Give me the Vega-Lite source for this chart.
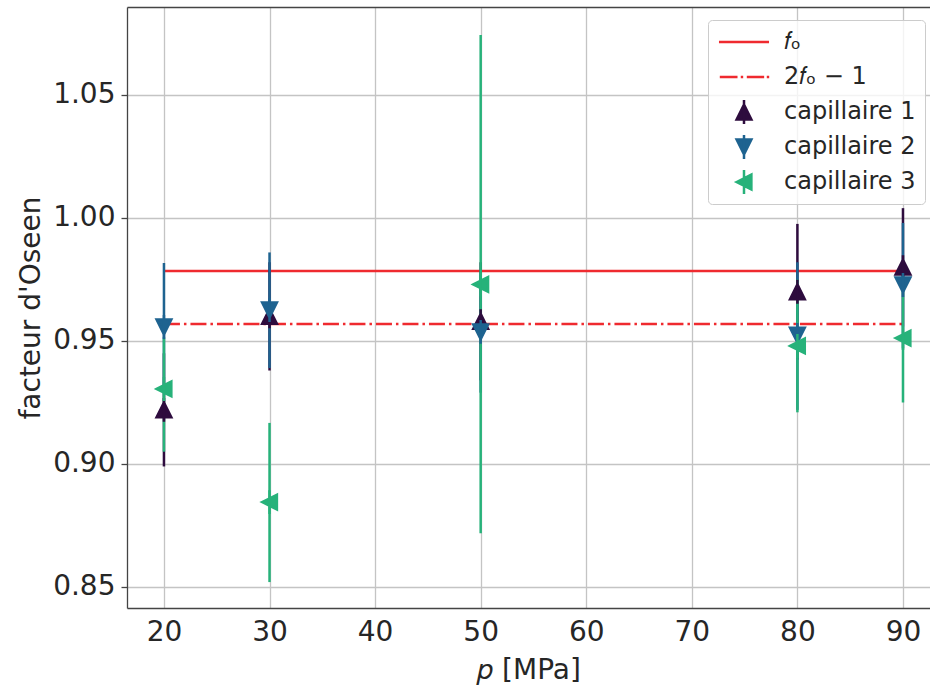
{
  "$schema": "https://vega.github.io/schema/vega-lite/v6.json",
  "width": 803,
  "height": 601,
  "autosize": "none",
  "padding": {"left": 127, "top": 7, "right": 0, "bottom": 78},
  "background": "white",
  "config": {
    "view": {"stroke": null},
    "font": "DejaVu Sans",
    "axis": {
      "labelFont": "DejaVu Sans",
      "titleFont": "DejaVu Sans",
      "labelColor": "#262626",
      "titleColor": "#262626",
      "titleFontWeight": "normal",
      "domainColor": "#444444",
      "domainWidth": 1.3,
      "tickColor": "#444444",
      "gridColor": "#c4c4c4",
      "gridWidth": 1.3
    },
    "legend": {
      "symbolStrokeWidth": 2.5,
      "clipHeight": 26
    }
  },
  "datasets": {
    "refs": [
      {"name": "fO", "x1": 20, "x2": 90, "v": 0.9785},
      {"name": "2fO-1", "x1": 20, "x2": 90, "v": 0.9569}
    ],
    "caps": [
      {"series": "capillaire 1", "p": 20, "f": 0.922, "lo": 0.899, "hi": 0.945},
      {"series": "capillaire 1", "p": 30, "f": 0.960, "lo": 0.938, "hi": 0.982},
      {"series": "capillaire 1", "p": 50, "f": 0.958, "lo": 0.934, "hi": 0.982},
      {"series": "capillaire 1", "p": 80, "f": 0.970, "lo": 0.9424, "hi": 0.9976},
      {"series": "capillaire 1", "p": 90, "f": 0.980, "lo": 0.956, "hi": 1.004},
      {"series": "capillaire 2", "p": 20, "f": 0.9557, "lo": 0.930, "hi": 0.9817},
      {"series": "capillaire 2", "p": 30, "f": 0.9626, "lo": 0.939, "hi": 0.986},
      {"series": "capillaire 2", "p": 50, "f": 0.9537, "lo": 0.929, "hi": 0.978},
      {"series": "capillaire 2", "p": 80, "f": 0.9524, "lo": 0.922, "hi": 0.982},
      {"series": "capillaire 2", "p": 90, "f": 0.9728, "lo": 0.947, "hi": 0.998},
      {"series": "capillaire 3", "p": 20, "f": 0.9305, "lo": 0.905, "hi": 0.9516},
      {"series": "capillaire 3", "p": 30, "f": 0.8845, "lo": 0.852, "hi": 0.9167},
      {"series": "capillaire 3", "p": 50, "f": 0.973, "lo": 0.8718, "hi": 1.0744},
      {"series": "capillaire 3", "p": 80, "f": 0.948, "lo": 0.921, "hi": 0.975},
      {"series": "capillaire 3", "p": 90, "f": 0.9512, "lo": 0.925, "hi": 0.977}
    ]
  },
  "layer": [
    {
      "data": {"name": "refs"},
      "mark": {"type": "rule", "strokeWidth": 2.5, "color": "#ef2a2f"},
      "encoding": {
        "x": {
          "field": "x1", "type": "quantitative",
          "scale": {"domain": [16.5, 92.56], "nice": false, "zero": false},
          "axis": {
            "orient": "bottom",
            "values": [20, 30, 40, 50, 60, 70, 80, 90],
            "title": "𝑝 [MPa]",
            "titleFontSize": 28,
            "labelFontSize": 28,
            "ticks": false,
            "labelPadding": 10,
            "titlePadding": 10,
            "grid": true
          }
        },
        "x2": {"field": "x2"},
        "y": {
          "field": "v", "type": "quantitative",
          "scale": {"domain": [0.84146, 1.08577], "nice": false, "zero": false},
          "axis": {
            "values": [0.85, 0.9, 0.95, 1.0, 1.05],
            "format": ".2f",
            "title": "facteur d'Oseen",
            "titleFontSize": 28,
            "labelFontSize": 28,
            "ticks": true,
            "tickSize": 6,
            "tickWidth": 1.3,
            "labelPadding": 6,
            "titlePadding": 7,
            "grid": true
          }
        },
        "strokeDash": {
          "field": "name", "type": "nominal",
          "scale": {"domain": ["fO", "2fO-1"], "range": [[1, 0], [16, 4, 2.5, 4]]},
          "legend": null
        }
      }
    },
    {
      "data": {"name": "caps"},
      "mark": {"type": "rule", "strokeWidth": 2.5},
      "encoding": {
        "x": {"field": "p", "type": "quantitative", "axis": null},
        "y": {"field": "lo", "type": "quantitative"},
        "y2": {"field": "hi"},
        "color": {
          "field": "series", "type": "nominal",
          "scale": {"domain": ["capillaire 1", "capillaire 2", "capillaire 3"], "range": ["#2e0c3e", "#1e6390", "#27b27a"]},
          "legend": null
        }
      }
    },
    {
      "data": {"name": "caps"},
      "mark": {"type": "point", "filled": true, "opacity": 1, "size": 324, "strokeWidth": 2.5},
      "encoding": {
        "x": {
          "field": "p", "type": "quantitative",
          "axis": {"orient": "top", "labels": false, "ticks": false, "grid": false, "title": null, "domain": true}
        },
        "y": {"field": "f", "type": "quantitative"},
        "fill": {
          "field": "series", "type": "nominal",
          "scale": {
            "domain": ["fO", "2fO-1", "capillaire 1", "capillaire 2", "capillaire 3"],
            "range": ["#ef2a2f", "#ef2a2f", "#2e0c3e", "#1e6390", "#27b27a"]
          },
          "legend": {
            "title": null, "orient": "none", "legendX": 581, "legendY": 13,
            "padding": 9, "symbolOffset": 15, "labelOffset": 28, "rowPadding": 9,
            "symbolSize": 324, "symbolStrokeWidth": 2.5, "clipHeight": 26,
            "labelFontSize": 24, "labelFont": "DejaVu Sans", "labelColor": "#262626",
            "fillColor": "rgba(255,255,255,0.8)", "strokeColor": "#cccccc", "cornerRadius": 4,
            "labelExpr": "datum.value == 'fO' ? '𝑓ₒ' : (datum.value == '2fO-1' ? '2𝑓ₒ − 1' : datum.value)"
          }
        },
        "stroke": {
          "field": "series", "type": "nominal",
          "scale": {
            "domain": ["fO", "2fO-1", "capillaire 1", "capillaire 2", "capillaire 3"],
            "range": ["#ef2a2f", "#ef2a2f", "#2e0c3e", "#1e6390", "#27b27a"]
          },
          "legend": {
            "title": null, "orient": "none", "legendX": 581, "legendY": 13,
            "padding": 9, "symbolOffset": 15, "labelOffset": 28, "rowPadding": 9,
            "symbolSize": 324, "symbolStrokeWidth": 2.5, "clipHeight": 26,
            "labelFontSize": 24, "labelFont": "DejaVu Sans", "labelColor": "#262626",
            "fillColor": "rgba(255,255,255,0.8)", "strokeColor": "#cccccc", "cornerRadius": 4,
            "labelExpr": "datum.value == 'fO' ? '𝑓ₒ' : (datum.value == '2fO-1' ? '2𝑓ₒ − 1' : datum.value)"
          }
        },
        "shape": {
          "field": "series", "type": "nominal",
          "scale": {
            "domain": ["fO", "2fO-1", "capillaire 1", "capillaire 2", "capillaire 3"],
            "range": [
              "M-2.78,0H2.78",
              "M-2.69,0H-0.72M-0.36,0H-0.09M0.31,0H2.24M2.53,0H2.8",
              "M0,-0.82L0.82,0.82L-0.82,0.82ZM0,-1.33V1.33",
              "M0,0.82L0.82,-0.82L-0.82,-0.82ZM0,-1.33V1.33",
              "M-0.82,0L0.82,-0.82L0.82,0.82ZM0,-1.33V1.33"
            ]
          },
          "legend": {
            "title": null, "orient": "none", "legendX": 581, "legendY": 13,
            "padding": 9, "symbolOffset": 15, "labelOffset": 28, "rowPadding": 9,
            "symbolSize": 324, "symbolStrokeWidth": 2.5, "clipHeight": 26,
            "labelFontSize": 24, "labelFont": "DejaVu Sans", "labelColor": "#262626",
            "fillColor": "rgba(255,255,255,0.8)", "strokeColor": "#cccccc", "cornerRadius": 4,
            "labelExpr": "datum.value == 'fO' ? '𝑓ₒ' : (datum.value == '2fO-1' ? '2𝑓ₒ − 1' : datum.value)"
          }
        }
      }
    }
  ],
  "resolve": {"axis": {"x": "independent"}}
}
